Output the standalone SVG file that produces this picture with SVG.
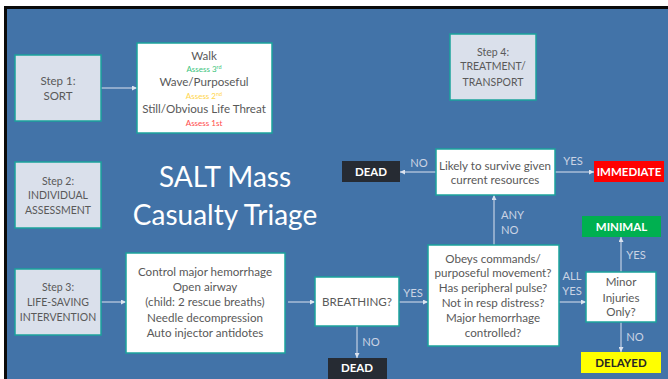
<svg xmlns="http://www.w3.org/2000/svg" width="668" height="379" viewBox="0 0 668 379">
  <defs>
    <marker id="arr" viewBox="0 0 6 6" refX="6" refY="3" markerWidth="5" markerHeight="5" markerUnits="userSpaceOnUse" orient="auto">
      <path d="M0,0 L6,3 L0,6 Z" fill="#DCE3EF"/>
    </marker>
    <style>
      .step { fill: #DAE0EB; stroke: #1BA39C; stroke-width: 1.5; }
      .box { fill: #FFFFFF; stroke: #1BA39C; stroke-width: 1.5; }
      .t { font-family: Lato, "Liberation Sans", sans-serif; fill: #595959; text-anchor: middle; }
      .st { font-size: 10.5px; }
      .bx { font-size: 11.6px; }
      .lbl { font-family: Lato, "Liberation Sans", sans-serif; font-size: 11.2px; fill: #CBD4E4; text-anchor: middle; }
      .tag { font-family: Lato, "Liberation Sans", sans-serif; font-size: 11.5px; font-weight: bold; text-anchor: middle; }
      .conn line { stroke: #DCE3EF; stroke-width: 1; marker-end: url(#arr); }
    </style>
  </defs>

  <!-- frame and slide background -->
  <rect x="0" y="0" width="668" height="379" fill="#FFFFFF"/>
  <rect x="4" y="6" width="664" height="373" fill="#0A0A0A"/>
  <rect x="7" y="9" width="661" height="370" fill="#4273A8"/>

  <!-- title -->
  <g id="title" font-family="Lato, 'Liberation Sans', sans-serif" font-size="28" fill="#FFFFFF" text-anchor="middle">
    <text x="225" y="187">SALT Mass</text>
    <text x="225" y="225">Casualty Triage</text>
  </g>

  <!-- connectors -->
  <g id="connectors" class="conn">
    <line x1="101" y1="88" x2="137" y2="88"/>
    <line x1="101" y1="302" x2="126" y2="302"/>
    <line x1="288" y1="302" x2="315" y2="302"/>
    <line x1="399" y1="302" x2="428" y2="302"/>
    <line x1="357" y1="326" x2="357" y2="358"/>
    <line x1="559" y1="302" x2="586" y2="302"/>
    <line x1="494" y1="245" x2="494" y2="195"/>
    <line x1="436" y1="172" x2="400" y2="172"/>
    <line x1="555" y1="172" x2="594" y2="172"/>
    <line x1="621" y1="272" x2="621" y2="237"/>
    <line x1="621" y1="322" x2="621" y2="352"/>
  </g>

  <!-- connector labels -->
  <g id="labels" class="lbl">
    <text x="419" y="167">NO</text>
    <text x="573" y="165">YES</text>
    <text x="501" y="219" text-anchor="start">ANY</text>
    <text x="501" y="234" text-anchor="start">NO</text>
    <text x="413" y="297">YES</text>
    <text x="371" y="346">NO</text>
    <text x="572" y="280">ALL</text>
    <text x="572" y="295">YES</text>
    <text x="636" y="259">YES</text>
    <text x="635" y="341">NO</text>
  </g>

  <g id="step1">
    <rect class="step" x="15" y="55" width="86" height="66"/>
    <text class="t" x="58" y="85" font-size="11.5">Step 1:</text>
    <text class="t" x="58" y="100" font-size="11.5">SORT</text>
  </g>

  <g id="sort">
    <rect class="box" x="137" y="43" width="135" height="90"/>
    <text class="t bx" x="204" y="60">Walk</text>
    <text class="t" x="204" y="72" font-size="8" style="fill:#3CC47C">Assess 3<tspan font-size="5.5" dy="-3">rd</tspan></text>
    <text class="t bx" x="204" y="86">Wave/Purposeful</text>
    <text class="t" x="204" y="99" font-size="8" style="fill:#FFD54A">Assess 2<tspan font-size="5.5" dy="-3">nd</tspan></text>
    <text class="t bx" x="204" y="113">Still/Obvious Life Threat</text>
    <text class="t" x="204" y="126" font-size="8" style="fill:#FF4B4B">Assess 1st</text>
  </g>

  <g id="step4">
    <rect class="step" x="450" y="34" width="86" height="66"/>
    <text class="t st" x="493" y="56">Step 4:</text>
    <text class="t st" x="493" y="70">TREATMENT/</text>
    <text class="t st" x="493" y="86">TRANSPORT</text>
  </g>

  <g id="step2">
    <rect class="step" x="15" y="162" width="86" height="66"/>
    <text class="t st" x="58" y="185">Step 2:</text>
    <text class="t st" x="58" y="199">INDIVIDUAL</text>
    <text class="t st" x="58" y="214">ASSESSMENT</text>
  </g>

  <g id="step3">
    <rect class="step" x="15" y="269" width="86" height="66"/>
    <text class="t st" x="58" y="291">Step 3:</text>
    <text class="t st" x="58" y="306">LIFE-SAVING</text>
    <text class="t st" x="58" y="321">INTERVENTION</text>
  </g>

  <g id="lifesaving">
    <rect class="box" x="126" y="253" width="159" height="100"/>
    <text class="t bx" x="205" y="276">Control major hemorrhage</text>
    <text class="t bx" x="205" y="291">Open airway</text>
    <text class="t bx" x="205" y="306">(child: 2 rescue breaths)</text>
    <text class="t bx" x="205" y="322">Needle decompression</text>
    <text class="t bx" x="205" y="337">Auto injector antidotes</text>
  </g>

  <g id="breathing">
    <rect class="box" x="315" y="277" width="84" height="49"/>
    <text class="t bx" x="357" y="306">BREATHING?</text>
  </g>

  <g id="dead-bottom">
    <rect x="328" y="358" width="59" height="25" fill="#262B33"/>
    <text class="tag" x="357" y="372" fill="#FFFFFF">DEAD</text>
  </g>

  <g id="assessment">
    <rect class="box" x="428" y="245" width="131" height="101"/>
    <text class="t bx" x="493" y="263">Obeys commands/</text>
    <text class="t bx" x="493" y="277">purposeful movement?</text>
    <text class="t bx" x="493" y="292">Has peripheral pulse?</text>
    <text class="t bx" x="493" y="307">Not in resp distress?</text>
    <text class="t bx" x="493" y="322">Major hemorrhage</text>
    <text class="t bx" x="493" y="337">controlled?</text>
  </g>

  <g id="minor">
    <rect class="box" x="586" y="272" width="70" height="50"/>
    <text class="t bx" x="621" y="286">Minor</text>
    <text class="t bx" x="621" y="302">Injuries</text>
    <text class="t bx" x="621" y="316">Only?</text>
  </g>

  <g id="minimal">
    <rect x="582" y="216" width="79" height="21" fill="#00B050"/>
    <text class="tag" x="621.5" y="230.5" fill="#FFFFFF">MINIMAL</text>
  </g>

  <g id="delayed">
    <rect x="581" y="352" width="80" height="21" fill="#FFFF00"/>
    <text class="tag" x="621" y="366.5" fill="#262626">DELAYED</text>
  </g>

  <g id="likely">
    <rect class="box" x="436" y="149" width="119" height="46"/>
    <text class="t bx" x="495" y="170">Likely to survive given</text>
    <text class="t bx" x="495" y="184">current resources</text>
  </g>

  <g id="dead-top">
    <rect x="342" y="161" width="58" height="21" fill="#262B33"/>
    <text class="tag" x="371" y="175.5" fill="#FFFFFF">DEAD</text>
  </g>

  <g id="immediate">
    <rect x="594" y="161" width="70" height="21" fill="#FF0000"/>
    <text class="tag" x="629" y="175.5" fill="#FFFFFF">IMMEDIATE</text>
  </g>
</svg>
